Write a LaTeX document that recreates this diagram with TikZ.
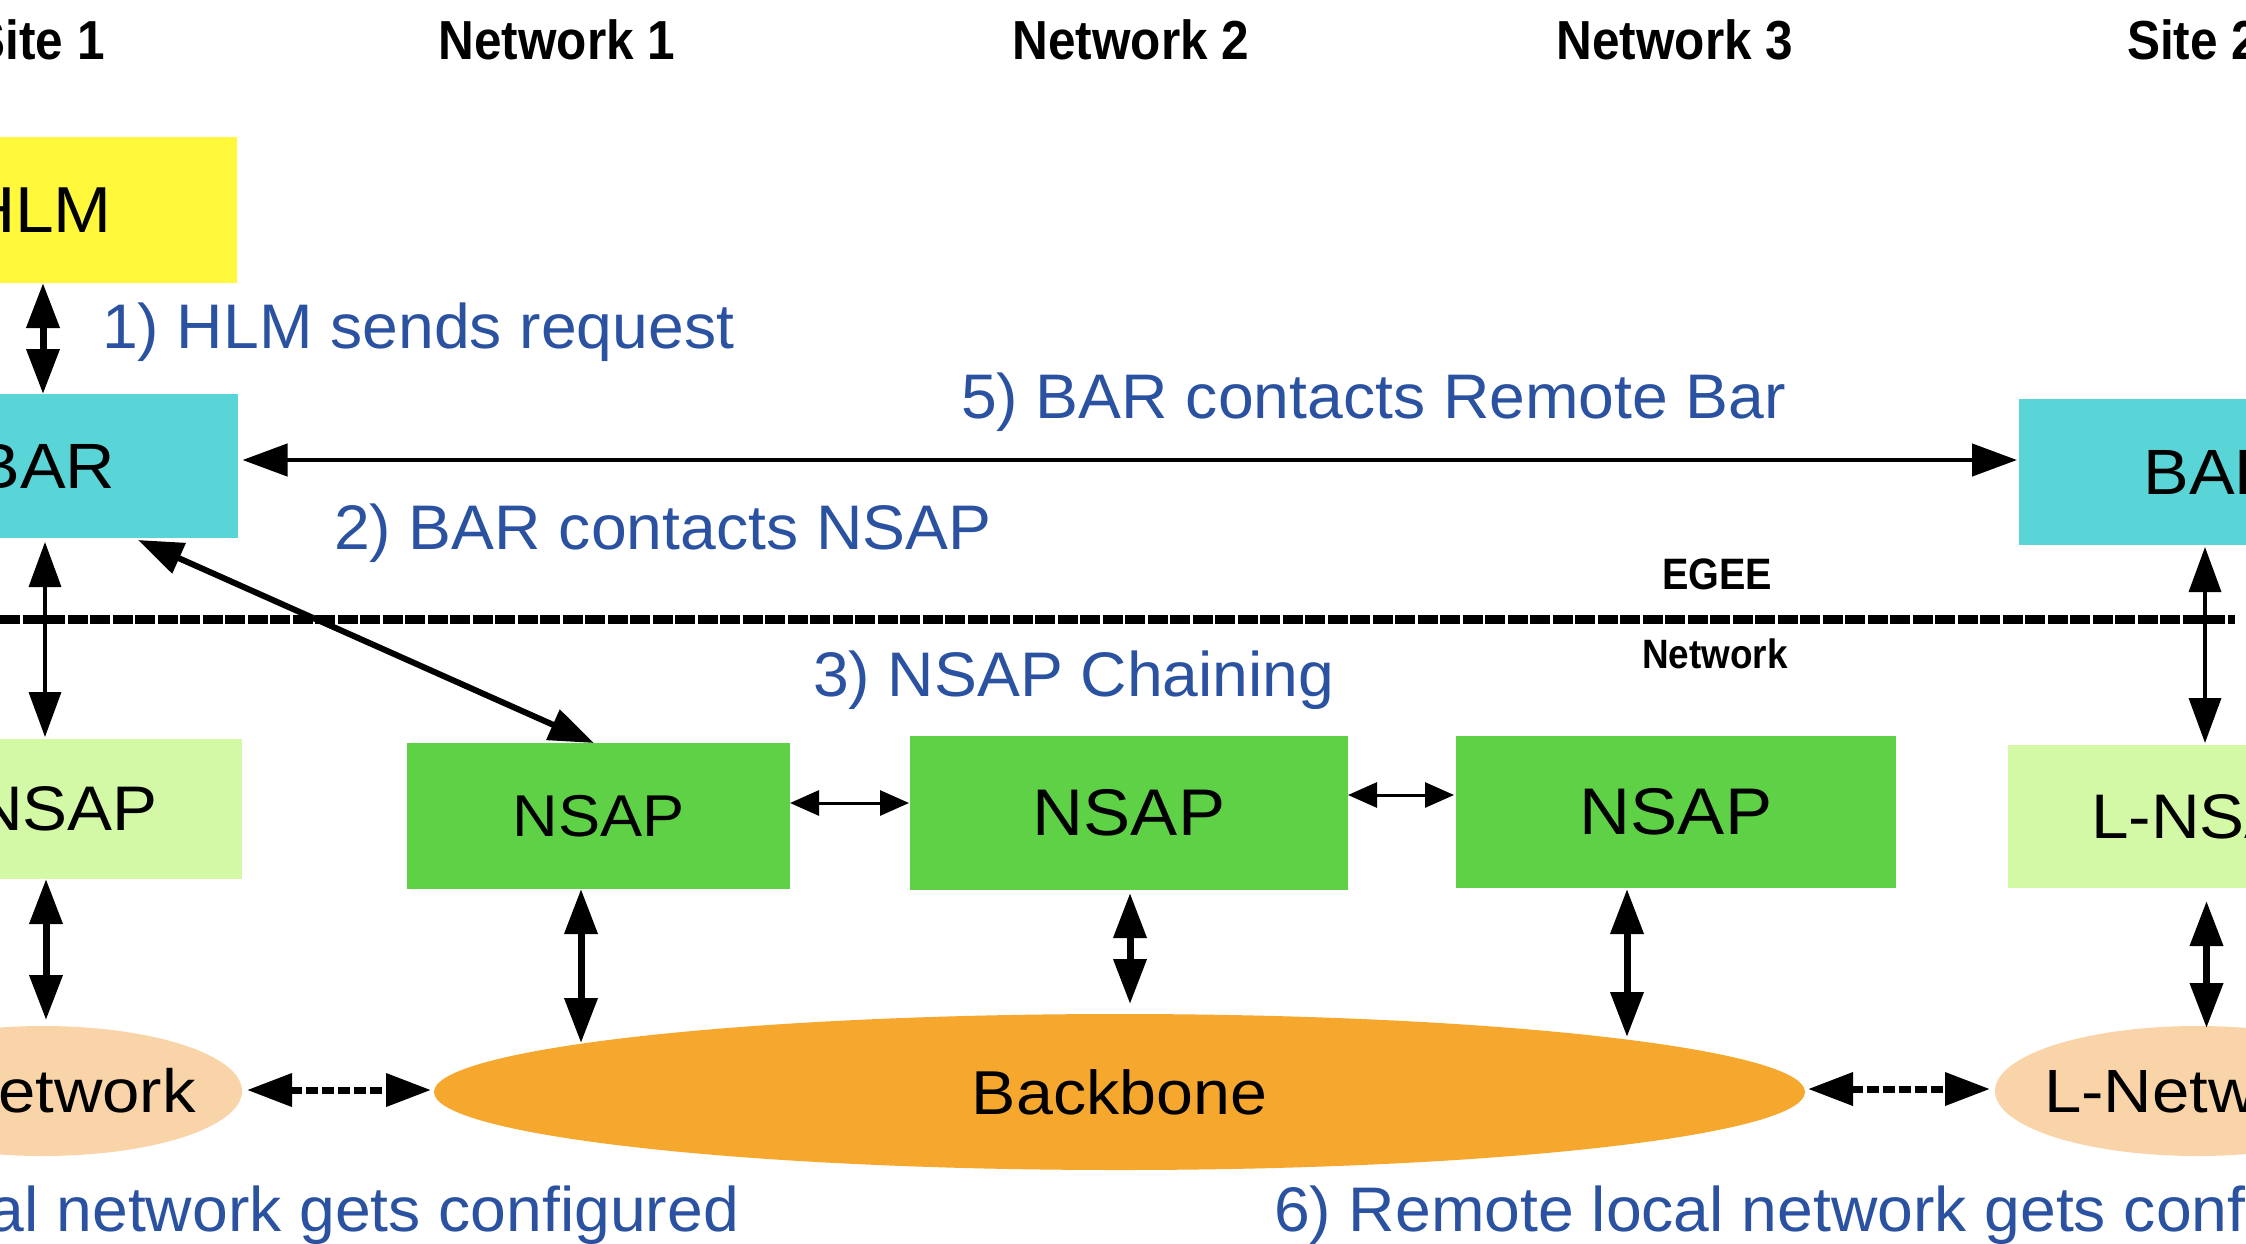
\documentclass[tikz,border=0pt]{standalone}
\usepackage{fontspec}
\setmainfont{Liberation Sans}
\newfontfamily\hdrfont[FakeStretch=0.9]{Liberation Sans}
\newfontfamily\boxfont[FakeStretch=1.07]{Liberation Sans}
\newfontfamily\netfont[FakeStretch=1.1]{Liberation Sans}
\newfontfamily\stepfont[FakeStretch=1.02]{Liberation Sans}
\usetikzlibrary{arrows.meta,shapes.geometric}
\definecolor{cyellow}{HTML}{FFF83B}
\definecolor{ccyan}{HTML}{59D5D7}
\definecolor{clgreen}{HTML}{D3F8A6}
\definecolor{cgreen}{HTML}{5FD147}
\definecolor{cpeach}{HTML}{F9D4A9}
\definecolor{corange}{HTML}{F5A82D}
\definecolor{cblue}{HTML}{2A52A0}
\tikzset{
  boxnode/.style={rectangle, inner sep=0pt, outer sep=0pt, draw=none},
  ellnode/.style={ellipse, inner sep=0pt, outer sep=0pt, draw=none},
  bluetext/.style={text=cblue, font=\stepfont\fontsize{63}{70}\selectfont, inner sep=0pt, outer sep=0pt},
  hdrtext/.style={font=\hdrfont\bfseries\fontsize{55}{60}\selectfont, inner sep=0pt, outer sep=0pt, anchor=base},
  bigtip/.tip={Triangle[length=45pt,width=32pt]},
  smalltip/.tip={Triangle[length=29pt,width=25pt]},
  thickarr/.style={line width=7pt, {bigtip}-{bigtip}},
  thinarr/.style={line width=3.5pt, {bigtip}-{bigtip}},
  longarr/.style={line width=4.5pt, {bigtip}-{bigtip}},
  chainarr/.style={line width=3pt, {smalltip}-{smalltip}},
  dotarr/.style={line width=7pt, dash pattern=on 12pt off 4pt, {bigtip}-{bigtip}},
}
\begin{document}
\begin{tikzpicture}[x=1pt, y=-1pt]
\useasboundingbox (0,0) rectangle (2246,1243);
\clip (0,0) rectangle (2246,1243);
\fill[white] (0,0) rectangle (2246,1243);

% headers
\node[hdrtext, anchor=base east] (h1) at (104.6,59) {Site 1};
\node[hdrtext] (h2) at (557,59) {Network 1};
\node[hdrtext] (h3) at (1131,59) {Network 2};
\node[hdrtext] (h4) at (1675,59) {Network 3};
\node[hdrtext, anchor=base west] (h5) at (2127,59) {Site 2};

% separator
\draw[line width=9pt, dash pattern=on 20pt off 2.5pt] (0,619) -- (2235,619);
\node[font=\hdrfont\bfseries\fontsize{44}{48}\selectfont, inner sep=0pt, anchor=base] (egee) at (1717,589) {EGEE};
\node[font=\hdrfont\bfseries\fontsize{41}{45}\selectfont, inner sep=0pt, anchor=base] (netl) at (1715,668) {Network};

% boxes
\node[boxnode, fill=cyellow, minimum width=397pt, minimum height=146pt, font=\boxfont\fontsize{65}{70}\selectfont] (hlm) at (38.5,210) {HLM};
\node[boxnode, fill=ccyan, minimum width=385pt, minimum height=144pt, font=\boxfont\fontsize{64}{70}\selectfont] (bar1) at (45,466) {BAR};
\node[boxnode, fill=ccyan, minimum width=390pt, minimum height=146pt, font=\boxfont\fontsize{64}{70}\selectfont] (bar2) at (2214,472) {BAR};
\node[boxnode, fill=clgreen, minimum width=412pt, minimum height=140pt, font=\boxfont\fontsize{63}{70}\selectfont] (lnsap1) at (36,809) {L-NSAP};
\node[boxnode, fill=clgreen, minimum width=410pt, minimum height=143pt, font=\boxfont\fontsize{63}{70}\selectfont] (lnsap2) at (2213,816.5) {L-NSAP};
\node[boxnode, fill=cgreen, minimum width=383pt, minimum height=146pt, font=\boxfont\fontsize{59}{65}\selectfont] (nsapA) at (598.5,816) {NSAP};
\node[boxnode, fill=cgreen, minimum width=438pt, minimum height=154pt, font=\boxfont\fontsize{66}{72}\selectfont] (nsapB) at (1129,813) {NSAP};
\node[boxnode, fill=cgreen, minimum width=440pt, minimum height=152pt, font=\boxfont\fontsize{66}{72}\selectfont] (nsapC) at (1676,812) {NSAP};

% ellipses (text as centre labels so it does not enlarge the shape)
\node[ellnode, fill=cpeach, minimum width=398pt, minimum height=130pt,
      label={[font=\netfont\fontsize{61}{66}\selectfont, inner sep=0pt]center:L-Network}] (lnet1) at (43,1091) {};
\node[ellnode, fill=cpeach, minimum width=404pt, minimum height=130pt,
      label={[font=\netfont\fontsize{61}{66}\selectfont, inner sep=0pt]center:L-Network}] (lnet2) at (2197,1091) {};
\node[ellnode, fill=corange, minimum width=1371pt, minimum height=156pt,
      label={[font=\boxfont\fontsize{62}{68}\selectfont, inner sep=0pt]center:Backbone}] (bb) at (1119.5,1092) {};

% column coordinates
\coordinate (c1a) at (43,0);
\coordinate (c1b) at (45,0);
\coordinate (c1c) at (46,0);
\coordinate (cA) at (581,0);
\coordinate (cB) at (1130,0);
\coordinate (cC) at (1627,0);
\coordinate (c2a) at (2205,0);
\coordinate (c2b) at (2206.5,0);
\coordinate (bA) at (581,1043);
\coordinate (bB) at (1130,1004);
\coordinate (bC) at (1627,1037);

% connectors
\draw[thickarr] (hlm.south -| c1a) -- (bar1.north -| c1a);
\draw[thinarr] ([yshift=-4pt]bar1.south -| c1b) -- ([yshift=2pt]lnsap1.north -| c1b);
\draw[thickarr] (lnsap1.south -| c1c) -- ([yshift=6pt]lnet1.north -| c1c);
\draw[line width=6pt, {bigtip}-{bigtip}] ([xshift=93pt,yshift=-2pt]bar1.south) -- ([xshift=-4.5pt]nsapA.north);
\draw[longarr] ([xshift=5pt,yshift=6pt]bar1.east) -- ([xshift=-2pt,yshift=12pt]bar2.west);
\draw[chainarr] ([yshift=13pt]nsapA.east) -- ([xshift=-1pt,yshift=10pt]nsapB.west);
\draw[chainarr] ([yshift=18pt]nsapB.east) -- ([xshift=-2pt,yshift=17pt]nsapC.west);
\draw[thickarr] (nsapA.south -| cA) -- (bA);
\draw[thickarr] ([yshift=-3pt]nsapB.south -| cB) -- (bB);
\draw[thickarr] ([yshift=-1pt]nsapC.south -| cC) -- (bC);
\draw[dotarr] ([xshift=5pt,yshift=1pt]lnet1.east) -- ([xshift=-3pt,yshift=2pt]bb.west);
\draw[dotarr] ([xshift=3pt,yshift=3pt]bb.east) -- ([xshift=-5pt,yshift=2pt]lnet2.west);
\draw[thinarr] ([yshift=-2pt]bar2.south -| c2a) -- ([yshift=2pt]lnsap2.north -| c2a);
\draw[thickarr] ([yshift=-13pt]lnsap2.south -| c2b) -- ([yshift=-2pt]lnet2.north -| c2b);

% blue step labels
\node[bluetext, anchor=base west] (t1) at (102,348) {1) HLM sends request};
\node[bluetext, anchor=base west] (t2) at (334,549) {2) BAR contacts NSAP};
\node[bluetext, anchor=base west] (t3) at (813,696) {3) NSAP Chaining};
\node[bluetext, anchor=base west] (t5) at (961,418) {5) BAR contacts Remote Bar};
\node[bluetext, anchor=base east] (t4) at (739,1231) {4) Local network gets configured};
\node[bluetext, anchor=base west] (t6) at (1274,1231) {6) Remote local network gets configured};
\end{tikzpicture}
\end{document}
